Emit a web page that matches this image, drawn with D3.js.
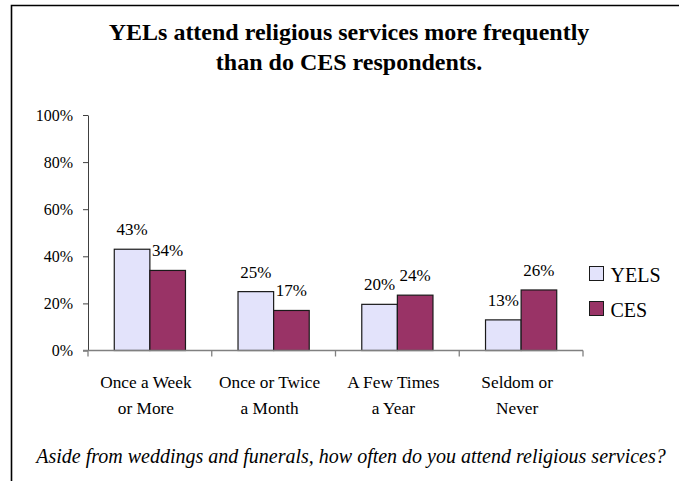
<!DOCTYPE html>
<html><head><meta charset="utf-8">
<script src="https://cdn.jsdelivr.net/npm/d3@7"></script>
<style>
html,body{margin:0;padding:0;background:#fff;}
svg{display:block;font-family:"Liberation Serif","Times New Roman",serif;}
svg text{font-family:"Liberation Serif","Times New Roman",serif;}
</style></head>
<body>
<svg id="c" width="679" height="481"></svg>
<script>
const titleLines = ["YELs attend religious services more frequently", "than do CES respondents."];
const categories = [["Once a Week","or More"],["Once or Twice","a Month"],["A Few Times","a Year"],["Seldom or","Never"]];
const seriesNames = ["YELS","CES"];
const yelsValues = [43, 25, 19.6, 13];
const cesValues = [34, 17, 23.5, 25.7];
const yTicks = [0, 20, 40, 60, 80, 100];
const footnote = "Aside from weddings and funerals, how often do you attend religious services?";
const colors = ["#E3E3FB", "#993366"];

const svg = d3.select("#c");
// frame
svg.append("path").attr("d","M11.5,481 V5.5 H679").attr("fill","none").attr("stroke","#000").attr("stroke-width",1.6);

const x0 = 88, x1 = 583, yBase = 350.5, yTop = 115;
const x = d3.scaleBand().domain(d3.range(categories.length)).range([x0, x1]).padding(0);
const xs = d3.scaleBand().domain(seriesNames).range([0, x.bandwidth()]).paddingInner(0).paddingOuter(0.738);
const y = d3.scaleLinear().domain([0,100]).range([yBase, yTop]);

// title
svg.append("text").attr("x",349).attr("text-anchor","middle")
  .attr("font-weight","bold").attr("font-size",24)
  .selectAll("tspan").data(titleLines).join("tspan")
  .attr("x",349).attr("y",(d,i)=>40+i*30).text(d=>d);

// y axis
const ya = svg.append("g").attr("transform",`translate(${x0},0)`)
  .call(d3.axisLeft(y).tickValues(yTicks).tickFormat(d=>d+"%").tickSize(5).tickSizeOuter(0).tickPadding(10));
ya.attr("font-family",null);
ya.select(".domain").attr("stroke","#404040");
ya.selectAll(".tick line").attr("stroke","#404040");
ya.selectAll("text").attr("font-size",16).attr("fill","#000");

// bars
const data = [];
categories.forEach((c,i)=>{
  data.push({i, s:"YELS", v:yelsValues[i], col:colors[0]});
  data.push({i, s:"CES", v:cesValues[i], col:colors[1]});
});
svg.append("g").selectAll("rect").data(data).join("rect")
  .attr("x",d=>x(d.i)+xs(d.s)).attr("y",d=>y(d.v))
  .attr("width",xs.bandwidth()).attr("height",d=>yBase-y(d.v))
  .attr("fill",d=>d.col).attr("stroke","#1a1a1a").attr("stroke-width",1.2);

// x axis
const xa = svg.append("g").attr("transform",`translate(0,${yBase})`);
xa.append("line").attr("x1",x0-5).attr("x2",x1).attr("stroke","#808080").attr("stroke-width",1.3);
const tickXs = d3.range(categories.length+1).map(i=> i<categories.length ? x(i) : x1);
xa.selectAll("line.t").data(tickXs).join("line").attr("class","t")
  .attr("x1",d=>d).attr("x2",d=>d).attr("y1",0).attr("y2",6).attr("stroke","#808080").attr("stroke-width",1.3);

// category labels
svg.append("g").selectAll("text").data(categories).join("text")
  .attr("text-anchor","middle").attr("font-size",17.3)
  .each(function(d,i){
    d3.select(this).selectAll("tspan").data(d).join("tspan")
      .attr("x", x(i)+x.bandwidth()/2 - 4).attr("y",(t,j)=>388+j*26).text(t=>t);
  });

// value labels
svg.append("g").selectAll("text").data(data).join("text")
  .attr("x",d=>x(d.i)+xs(d.s)+xs.bandwidth()/2).attr("y",d=>y(d.v)-14)
  .attr("text-anchor","middle").attr("font-size",17)
  .text(d=>Math.round(d.v)+"%");

// legend
const lg = svg.append("g").selectAll("g").data(seriesNames).join("g")
  .attr("transform",(d,i)=>`translate(589.5,${266.5+i*35})`);
lg.append("rect").attr("width",14).attr("height",14).attr("fill",(d,i)=>colors[i]).attr("stroke","#1a1a1a").attr("stroke-width",1);
lg.append("text").attr("x",21).attr("y",15).attr("font-size",20).text(d=>d);

// footnote
svg.append("text").attr("x",351).attr("y",463).attr("text-anchor","middle")
  .attr("font-style","italic").attr("font-size",20).text(footnote);
</script>
</body></html>
